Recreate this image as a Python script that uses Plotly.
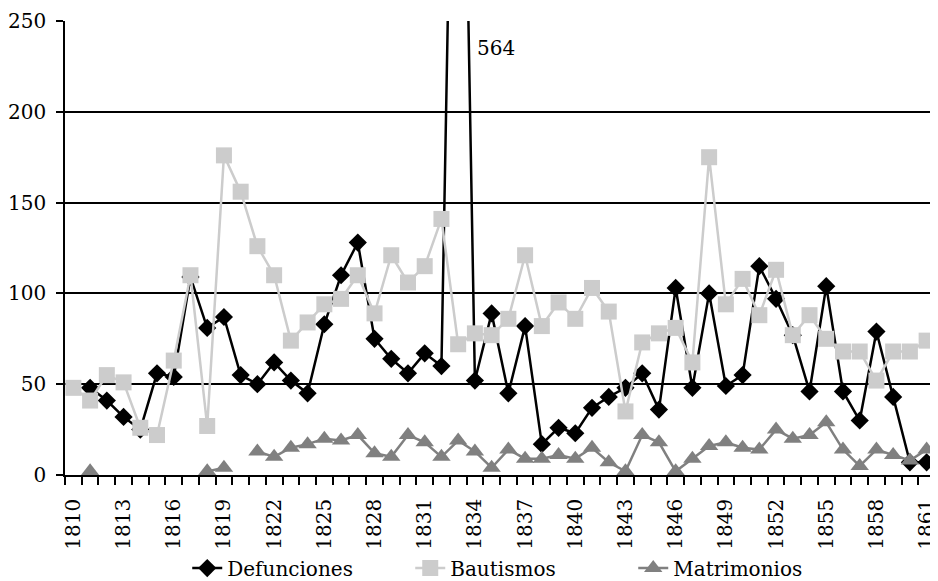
import plotly.graph_objects as go

years = list(range(1810, 1862))

defunciones = [None, 48, 41, 32, 25, 56, 54, 109, 81, 87,
               55, 50, 62, 52, 45, 83, 110, 128, 75, 64,
               56, 67, 60, 564, 52, 89, 45, 82, 17, 26,
               23, 37, 43, 48, 56, 36, 103, 48, 100, 49,
               55, 115, 97, 77, 46, 104, 46, 30, 79, 43,
               7, 7]

bautismos = [48, 41, 55, 51, 26, 22, 63, 110, 27, 176,
             156, 126, 110, 74, 84, 94, 97, 110, 89, 121,
             106, 115, 141, 72, 78, 77, 86, 121, 82, 95,
             86, 103, 90, 35, 73, 78, 81, 62, 175, 94,
             108, 88, 113, 77, 88, 75, 68, 68, 52, 68,
             68, 74]

matrimonios = [None, 2, None, None, None, None, None, None, 2, 4,
               None, 13, 10, 15, 17, 20, 19, 22, 12, 10,
               22, 18, 10, 19, 13, 4, 14, 9, 9, 11,
               9, 15, 7, 2, 22, 18, 2, 9, 16, 18,
               15, 14, 25, 20, 22, 29, 14, 5, 14, 11,
               8, 14]

label_years = list(range(1810, 1862, 3))
boundaries = [y - 0.5 for y in range(1810, 1863)]

FONT = "DejaVu Serif"
FS = 20

fig = go.Figure()
fig.add_trace(go.Scatter(
    x=years, y=defunciones, name="Defunciones", mode="lines+markers",
    line=dict(color="black", width=2.5),
    marker=dict(symbol="diamond", size=14, color="black"),
    connectgaps=False, cliponaxis=True))
fig.add_trace(go.Scatter(
    x=years, y=bautismos, name="Bautismos", mode="lines+markers",
    line=dict(color="#CCCCCC", width=2.5),
    marker=dict(symbol="square", size=16, color="#CCCCCC"),
    connectgaps=False, cliponaxis=False))
fig.add_trace(go.Scatter(
    x=years, y=matrimonios, name="Matrimonios", mode="lines+markers",
    line=dict(color="#808080", width=2.5),
    marker=dict(symbol="triangle-up", size=16, color="#808080"),
    connectgaps=False, cliponaxis=False))

fig.add_annotation(x=1834.0, y=235, text="564", showarrow=False,
                   xanchor="left", yanchor="middle",
                   font=dict(family=FONT, size=FS, color="black"))

fig.update_layout(
    width=930, height=573,
    margin=dict(l=57, r=3, t=13, b=106, autoexpand=False),
    paper_bgcolor="white", plot_bgcolor="white",
    font=dict(family=FONT, size=FS, color="black"),
    showlegend=True,
    legend=dict(orientation="h", x=0.1405, xanchor="left",
                y=-0.205, yanchor="middle",
                entrywidth=178, entrywidthmode="pixels",
                font=dict(family=FONT, size=FS, color="black"),
                bgcolor="rgba(0,0,0,0)"),
    xaxis=dict(
        range=[1809.5, 1861.5],
        tickmode="array", tickvals=label_years,
        ticktext=[str(y) for y in label_years],
        tickangle=-90, ticks="", ticklabelstandoff=14,
        ticklabeloverflow="allow",
        showgrid=False, zeroline=False,
        showline=True, linecolor="black", linewidth=1.5,
        minor=dict(tickmode="array", tickvals=boundaries, ticks="outside",
                   ticklen=8, tickwidth=1.5, tickcolor="black", showgrid=False),
        tickfont=dict(family=FONT, size=FS, color="black"),
    ),
    yaxis=dict(
        range=[0, 250], tickmode="array", tickvals=[0, 50, 100, 150, 200, 250],
        ticks="outside", ticklen=7, tickwidth=1.5, tickcolor="black",
        ticklabelstandoff=6,
        showgrid=True, gridcolor="black", gridwidth=1.5,
        zeroline=False,
        showline=True, linecolor="black", linewidth=1.5,
        tickfont=dict(family=FONT, size=FS, color="black"),
    ),
)

fig.write_html("out.html")
